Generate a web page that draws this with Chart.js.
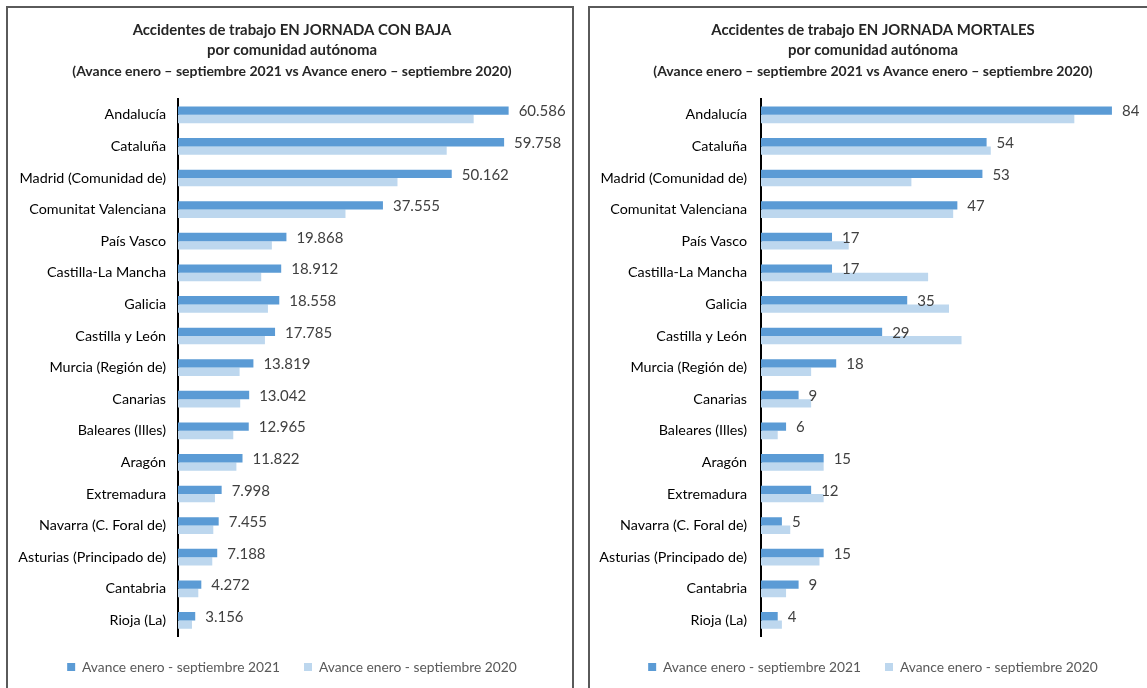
<!DOCTYPE html>
<html>
<head>
<meta charset="utf-8">
<script src="https://cdn.jsdelivr.net/npm/chart.js@4"></script>
<style>
  html, body { margin: 0; padding: 0; background: #fff; width: 1147px; height: 688px; overflow: hidden; }
  .box { position: absolute; top: 6px; height: 720px; border: 2px solid #5a5a5a; box-sizing: border-box; }
  #boxL { left: 6px; width: 568px; }
  #boxR { left: 588px; width: 580px; }
  .wrap { position: absolute; top: 8px; height: 700px; }
  #wrapL { left: 9px; width: 562px; }
  #wrapR { left: 591px; width: 560px; }
</style>
</head>
<body>
<div class="box" id="boxL"></div>
<div class="box" id="boxR"></div>
<div class="wrap" id="wrapL"><canvas id="chartL" width="562" height="700"></canvas></div>
<div class="wrap" id="wrapR"><canvas id="chartR" width="560" height="700"></canvas></div>
<script>
const categories = ["Andalucía", "Cataluña", "Madrid (Comunidad de)", "Comunitat Valenciana", "País Vasco",
  "Castilla-La Mancha", "Galicia", "Castilla y León", "Murcia (Región de)", "Canarias", "Baleares (Illes)",
  "Aragón", "Extremadura", "Navarra (C. Foral de)", "Asturias (Principado de)", "Cantabria", "Rioja (La)"];
const seriesNames = ["Avance enero - septiembre 2021", "Avance enero - septiembre 2020"];

const bajas2021 = [60586, 59758, 50162, 37555, 19868, 18912, 18558, 17785, 13819, 13042, 12965, 11822, 7998, 7455, 7188, 4272, 3156];
const bajas2020 = [54180, 49240, 40220, 30690, 17200, 15250, 16480, 15930, 11290, 11400, 10130, 10700, 6770, 6470, 6280, 3720, 2560];
const mortales2021 = [84, 54, 53, 47, 17, 17, 35, 29, 18, 9, 6, 15, 12, 5, 15, 9, 4];
const mortales2020 = [75, 55, 36, 46, 21, 40, 45, 48, 12, 12, 4, 15, 15, 7, 14, 6, 5];

const titleL = ["Accidentes de trabajo EN JORNADA CON BAJA", "por comunidad autónoma"];
const titleR = ["Accidentes de trabajo EN JORNADA MORTALES", "por comunidad autónoma"];
const subtitleText = "(Avance enero – septiembre 2021 vs Avance enero – septiembre 2020)";

const xMaxL = 70000;
const xMaxR = 90;

const COLOR_2021 = "#5B9BD5";
const COLOR_2020 = "#BDD7EE";

Chart.defaults.font.family = "Lato, 'Open Sans', sans-serif";
Chart.defaults.animation = false;

function fmtNum(v) {
  const s = String(Math.round(v));
  return s.replace(/\B(?=(\d{3})+(?!\d))/g, ".");
}

const valueLabels = {
  id: "valueLabels",
  beforeDraw(chart) {
    // let long category labels use the space to the left of the axis box
    chart.scales.y.left = 0;
  },
  afterDatasetsDraw(chart) {
    const ctx = chart.ctx;
    const meta = chart.getDatasetMeta(0);
    const data = chart.data.datasets[0].data;
    ctx.save();
    ctx.font = "15px Lato, 'Open Sans', sans-serif";
    ctx.fillStyle = "#404040";
    ctx.textAlign = "left";
    ctx.textBaseline = "middle";
    meta.data.forEach((bar, i) => {
      ctx.fillText(fmtNum(data[i]), bar.x + 10, bar.y + 1);
    });
    ctx.restore();
  }
};

function makeChart(id, d2021, d2020, title, xMax, padLeft, yWidth, padRight, tickPad) {
  return new Chart(document.getElementById(id), {
    type: "bar",
    data: {
      labels: categories,
      datasets: [
        { label: seriesNames[0], data: d2021, backgroundColor: COLOR_2021, borderWidth: 0,
          categoryPercentage: 0.53, barPercentage: 1.0 },
        { label: seriesNames[1], data: d2020, backgroundColor: COLOR_2020, borderWidth: 0,
          categoryPercentage: 0.53, barPercentage: 1.0 }
      ]
    },
    options: {
      indexAxis: "y",
      responsive: false,
      maintainAspectRatio: false,
      layout: { padding: { left: padLeft, right: padRight, top: 0, bottom: 24 } },
      scales: {
        x: {
          display: false,
          min: 0,
          max: xMax
        },
        y: {
          afterFit: (s) => { s.width = yWidth; },
          grid: { display: false, drawTicks: false },
          border: { display: true, color: "#000", width: 2 },
          ticks: { color: "#000", font: { size: 14.3 }, padding: tickPad }
        }
      },
      plugins: {
        title: {
          display: true,
          text: title,
          color: "#262626",
          font: { size: 14.9, weight: "bold", lineHeight: "20px" },
          padding: { top: 12, bottom: 0 }
        },
        subtitle: {
          display: true,
          text: subtitleText,
          color: "#262626",
          font: { size: 14, weight: "bold", lineHeight: "16px" },
          padding: { top: 3, bottom: 20 }
        },
        legend: {
          display: true,
          position: "bottom",
          labels: {
            boxWidth: 8,
            boxHeight: 8,
            color: "#595959",
            font: { size: 13.8 },
            padding: 24
          }
        },
        tooltip: { enabled: false }
      }
    },
    plugins: [valueLabels]
  });
}

makeChart("chartL", bajas2021, bajas2020, titleL, xMaxL, 15, 154, 11, 12);
makeChart("chartR", mortales2021, mortales2020, titleR, xMaxR, 18, 152, 14, 14);
</script>
</body>
</html>
